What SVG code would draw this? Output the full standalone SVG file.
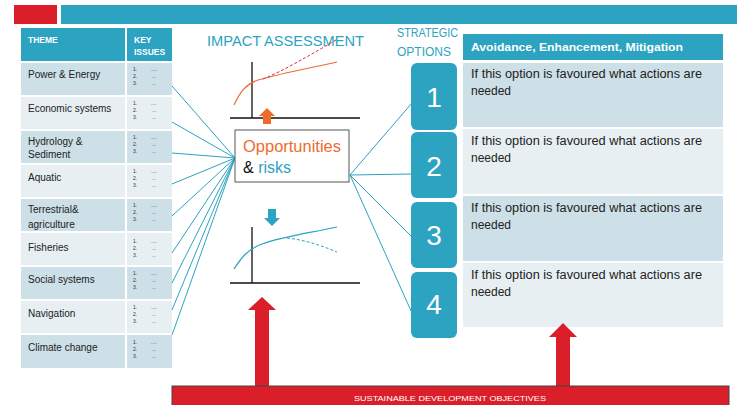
<svg xmlns="http://www.w3.org/2000/svg" width="737" height="405" viewBox="0 0 737 405">
<style>
.t{font-family:"Liberation Sans",Arial,sans-serif}
.dark{fill:#cddfe7}
.light{fill:#e7eff3}
.teal{fill:#2ca3c1}
.lbl{font-family:"Liberation Sans",Arial,sans-serif;font-size:10px;fill:#222}
.hd{font-family:"Liberation Sans",Arial,sans-serif;font-size:8.5px;font-weight:bold;fill:#fff}
.ki{font-family:"Liberation Sans",Arial,sans-serif;font-size:5px;fill:#333}
.opt{font-family:"Liberation Sans",Arial,sans-serif;font-size:12px;fill:#222}
.num{font-family:"Liberation Sans",Arial,sans-serif;font-size:28px;fill:#fff;text-anchor:middle}
.con{stroke:#2ca3c1;stroke-width:1;fill:none}
.ax{stroke:#111;stroke-width:1.3;fill:none}
</style>
<defs>
<g id="ki">
<text class="ki" x="133" y="8">1.</text><text class="ki" x="151" y="8">....</text>
<text class="ki" x="133" y="15">2.</text><text class="ki" x="152" y="15">...</text>
<text class="ki" x="133" y="22">3.</text><text class="ki" x="152" y="22">...</text>
</g>
</defs>
<rect width="737" height="405" fill="#fff"/>
<g id="banner">
<rect x="14" y="5" width="43" height="19" fill="#da1f2a"/>
<rect x="61" y="5" width="676" height="19" fill="#2ca3c1"/>
</g>
<g id="theme-table">
<rect x="21" y="28" width="104" height="33" class="teal"/>
<rect x="127" y="28" width="45" height="33" class="teal"/>
<text class="hd" x="28" y="43">THEME</text>
<text class="hd" x="134" y="43">KEY</text>
<text class="hd" x="134" y="55">ISSUES</text>
</g>
<g id="row-power"><rect x="21" y="63" width="104" height="32" class="dark"/><rect x="127" y="63" width="45" height="32" class="dark"/><text class="lbl" x="28" y="78">Power &amp; Energy</text><use href="#ki" y="63"/></g>
<g id="row-economic"><rect x="21" y="97" width="104" height="32" class="light"/><rect x="127" y="97" width="45" height="32" class="light"/><text class="lbl" x="28" y="112">Economic systems</text><use href="#ki" y="97"/></g>
<g id="row-hydrology"><rect x="21" y="131" width="104" height="32" class="dark"/><rect x="127" y="131" width="45" height="32" class="dark"/><text class="lbl" x="28" y="145">Hydrology &amp;</text><text class="lbl" x="28" y="158">Sediment</text><use href="#ki" y="131"/></g>
<g id="row-aquatic"><rect x="21" y="165" width="104" height="32" class="light"/><rect x="127" y="165" width="45" height="32" class="light"/><text class="lbl" x="28" y="181">Aquatic</text><use href="#ki" y="165"/></g>
<g id="row-terrestrial"><rect x="21" y="199" width="104" height="32" class="dark"/><rect x="127" y="199" width="45" height="32" class="dark"/><text class="lbl" x="28" y="213">Terrestrial&amp;</text><text class="lbl" x="28" y="228">agriculture</text><use href="#ki" y="199"/></g>
<g id="row-fisheries"><rect x="21" y="233" width="104" height="32" class="light"/><rect x="127" y="233" width="45" height="32" class="light"/><text class="lbl" x="28" y="251">Fisheries</text><use href="#ki" y="235"/></g>
<g id="row-social"><rect x="21" y="267" width="104" height="32" class="dark"/><rect x="127" y="267" width="45" height="32" class="dark"/><text class="lbl" x="28" y="283">Social systems</text><use href="#ki" y="267"/></g>
<g id="row-navigation"><rect x="21" y="301" width="104" height="32" class="light"/><rect x="127" y="301" width="45" height="32" class="light"/><text class="lbl" x="28" y="317">Navigation</text><use href="#ki" y="301"/></g>
<g id="row-climate"><rect x="21" y="335" width="104" height="33" class="dark"/><rect x="127" y="335" width="45" height="33" class="dark"/><text class="lbl" x="28" y="351">Climate change</text><use href="#ki" y="336"/></g>

<g id="connectors">
<path class="con" d="M172 86L235 158M172 122L235 158M172 153L235 158M172 184L235 158M172 216L235 158M172 253L235 158M172 283L235 158M172 310L235 158M172 335L235 158"/>
<path class="con" d="M412 103L350 175M412 174L350 175M412 237L350 175M412 313L350 175"/>
</g>

<g id="impact-title">
<text class="t" x="207" y="46" font-size="15.5" fill="#2ca3c1" textLength="157" lengthAdjust="spacingAndGlyphs">IMPACT ASSESSMENT</text>
</g>
<g id="upper-chart">
<path class="ax" d="M252 62V118M230 118H360"/>
<path d="M234 105C240 92 246 84 258 80C275 75 300 70 337 62" stroke="#ed6c2d" stroke-width="1.2" fill="none"/>
<path d="M263 79C285 70 310 55 336 40" stroke="#e0283a" stroke-width="1" stroke-dasharray="3,2" fill="none"/>
<polygon points="267,108 275,116 271,116 271,124 263,124 263,116 259,116" fill="#ed6c2d"/>
</g>
<g id="opportunities">
<rect x="235" y="130" width="114" height="52" fill="#fff" stroke="#555" stroke-width="1"/>
<text class="t" x="243" y="152" font-size="16" fill="#ed6c2d" textLength="98" lengthAdjust="spacingAndGlyphs">Opportunities</text>
<text class="t" x="243" y="173" font-size="16" fill="#111">&amp; <tspan fill="#2ca3c1">risks</tspan></text>
</g>
<g id="lower-chart">
<polygon points="272,226 280,218 276,218 276,209 268,209 268,218 264,218" fill="#2ca3c1"/>
<path class="ax" d="M252 227V283M230 283H360"/>
<path d="M234 269C240 260 246 250 262 244C285 236 310 233 337 227" stroke="#2ca3c1" stroke-width="1.2" fill="none"/>
<path d="M287 238C305 240 320 245 337 252" stroke="#2ca3c1" stroke-width="1" stroke-dasharray="3,2" fill="none"/>
</g>
<g id="strategic-title">
<text class="t" x="397" y="37" font-size="12.5" fill="#2ca3c1" textLength="61" lengthAdjust="spacingAndGlyphs">STRATEGIC</text>
<text class="t" x="397" y="56" font-size="12.5" fill="#2ca3c1" textLength="54" lengthAdjust="spacingAndGlyphs">OPTIONS</text>
</g>
<g id="option-1"><rect x="411" y="63" width="46" height="67" rx="6" class="teal"/><text class="num" x="434" y="107">1</text></g>
<g id="option-2"><rect x="411" y="132" width="46" height="66" rx="6" class="teal"/><text class="num" x="434" y="176">2</text></g>
<g id="option-3"><rect x="411" y="202" width="46" height="66" rx="6" class="teal"/><text class="num" x="434" y="245">3</text></g>
<g id="option-4"><rect x="411" y="272" width="46" height="66" rx="6" class="teal"/><text class="num" x="434" y="314">4</text></g>
<g id="actions-table">
<rect x="463" y="34" width="260" height="26" class="teal"/>
<text class="t" x="471" y="51" font-size="11.5" font-weight="bold" fill="#fff" textLength="212" lengthAdjust="spacingAndGlyphs">Avoidance, Enhancement, Mitigation</text>
</g>
<g id="action-1"><rect x="463" y="63" width="260" height="64" class="dark"/><text class="opt" x="471" y="78" textLength="231" lengthAdjust="spacingAndGlyphs">If this option is favoured what actions are</text><text class="opt" x="471" y="95">needed</text></g>
<g id="action-2"><rect x="463" y="129" width="260" height="65" class="light"/><text class="opt" x="471" y="145" textLength="231" lengthAdjust="spacingAndGlyphs">If this option is favoured what actions are</text><text class="opt" x="471" y="162">needed</text></g>
<g id="action-3"><rect x="463" y="196" width="260" height="65" class="dark"/><text class="opt" x="471" y="212" textLength="231" lengthAdjust="spacingAndGlyphs">If this option is favoured what actions are</text><text class="opt" x="471" y="229">needed</text></g>
<g id="action-4"><rect x="463" y="263" width="260" height="64" class="light"/><text class="opt" x="471" y="279" textLength="231" lengthAdjust="spacingAndGlyphs">If this option is favoured what actions are</text><text class="opt" x="471" y="296">needed</text></g>
<g id="sdo">
<polygon points="262,297 276,310 269,310 269,387 255,387 255,310 248,310" fill="#da1f2a"/>
<polygon points="563,323 577,337 570,337 570,387 556,387 556,337 549,337" fill="#da1f2a"/>
<rect x="172" y="386" width="557" height="22" fill="#da1f2a" stroke="#444" stroke-width="1"/>
<text class="t" x="354" y="401" font-size="8" fill="#fff" textLength="192" lengthAdjust="spacingAndGlyphs">SUSTAINABLE DEVELOPMENT OBJECTIVES</text>
</g>
</svg>
